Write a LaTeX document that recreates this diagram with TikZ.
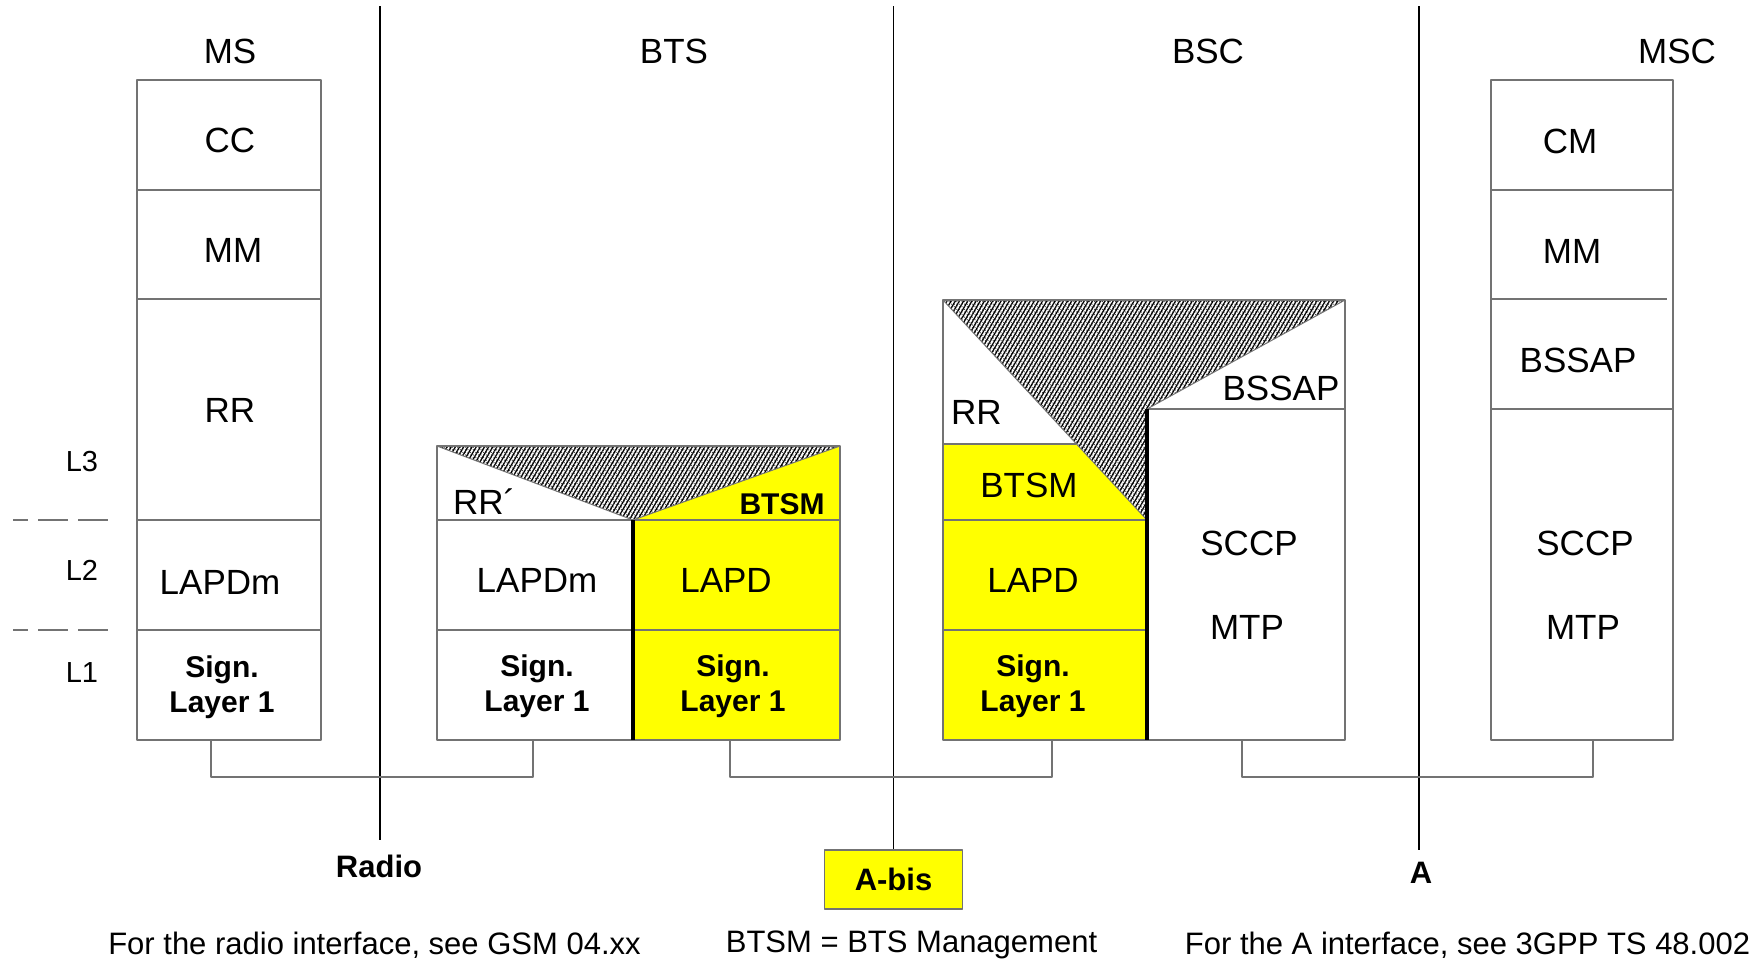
\documentclass[tikz,border=0pt]{standalone}
\usepackage{fontspec}
\setmainfont{Liberation Sans}
\usetikzlibrary{patterns.meta}
\definecolor{boxgray}{gray}{0.45}
\definecolor{sigyellow}{RGB}{255,255,0}
\begin{document}
\begin{tikzpicture}[x=1pt,y=-1pt,line join=round]
	\tikzset{box/.style={draw=boxgray,line width=1.4pt},
		big/.style={font=\fontsize{35}{40}\selectfont,inner sep=0pt},
		sig/.style={font=\bfseries\fontsize{30}{35}\selectfont,align=center,inner sep=0pt},
		iface/.style={font=\bfseries\fontsize{31}{35}\selectfont,inner sep=0pt},
		note/.style={font=\fontsize{31}{36}\selectfont,inner sep=0pt},
		lay/.style={font=\fontsize{29}{32}\selectfont,inner sep=0pt},
		hatch/.style={pattern={Lines[angle=60,distance=3.6pt,line width=1.3pt]},pattern color=black},
		grain/.style={pattern={Dots[distance=2.6pt,radius=0.6pt]},pattern color=black!80},
		link/.style={draw=boxgray,line width=1.6pt},
		iline/.style={line width=1.1pt}}
	\useasboundingbox (0,0) rectangle (1759,962);
	% titles
	\node[big] (ms) at (230,51) {MS};
	\node[big] (bts) at (674,51) {BTS};
	\node[big] (bsc) at (1208,51) {BSC};
	\node[big] (msc) at (1677,51) {MSC};
	% interfaces
	\node[iface] (radio) at (379,866) {Radio};
	\node[iface,draw=boxgray,line width=1.4pt,fill=sigyellow,minimum width=138pt,minimum height=59pt] (abis) at (893.5,879.5) {A-bis};
	\node[iface] (aif) at (1421,873) {A};
	\draw[iline] (380,6) coordinate (radio-top) -- (380,840) coordinate (radio-end);
	\draw[iline] (893.5,6) coordinate (abis-top) -- (abis.north);
	\draw[iline] (1419,6) coordinate (aif-top) -- (1419,850) coordinate (aif-end);
	% layers
	\draw[boxgray,line width=1.4pt,dash pattern={on 15pt off 10pt on 30pt off 10pt on 30pt off 10pt}] (13,520) -- (108,520) (13,630) -- (108,630);
	\node[lay] (l3) at (82,462) {L3};
	\node[lay] (l2) at (82,570) {L2};
	\node[lay] (l1) at (82,673) {L1};
	% MS
	\draw[box] (137,80) rectangle (321,740);
	\foreach \y in {190,299,520,630} \draw[box] (137,\y) -- (321,\y);
	\node[big] (ms-cc) at (230,140) {CC};
	\node[big] (ms-mm) at (233,250) {MM};
	\node[big] (ms-rr) at (230,410) {RR};
	\node[big] (ms-lapdm) at (220,582) {LAPDm};
	\node[sig] (ms-sig) at (222,687) {Sign.\\Layer 1};
	% BTS
	\fill[sigyellow] (633,520) -- (840,446) -- (840,740) -- (633,740) -- cycle;
	\fill[hatch] (437,446) -- (840,446) -- (633,520) -- cycle;
	\fill[grain] (437,446) -- (840,446) -- (633,520) -- cycle;
	\draw[boxgray,line width=1pt] (437,446) -- (633,520) -- (840,446);
	\draw[box] (437,446) rectangle (840,740) (437,520) -- (840,520) (437,630) -- (840,630);
	\draw[line width=4pt] (633,520) -- (633,740);
	\node[big,anchor=west] (bts-rr) at (453,502) {RR´};
	\node[sig] (bts-btsm) at (782,504) {BTSM};
	\node[big] (bts-lapdm) at (537,580) {LAPDm};
	\node[big] (bts-lapd) at (726,580) {LAPD};
	\node[sig] (bts-sig1) at (537,686) {Sign.\\Layer 1};
	\node[sig] (bts-sig2) at (733,686) {Sign.\\Layer 1};
	% BSC
	\fill[sigyellow] (943,444) -- (1076,444) -- (1147,520) -- (1147,740) -- (943,740) -- cycle;
	\fill[hatch] (943,300) -- (1345,300) -- (1147,409) -- (1147,520) -- cycle;
	\fill[grain] (943,300) -- (1345,300) -- (1147,409) -- (1147,520) -- cycle;
	\draw[boxgray,line width=1pt] (943,300) -- (1147,520) (1345,300) -- (1147,409);
	\draw[box] (943,300) rectangle (1345,740) (943,444) -- (1076,444) (943,520) -- (1147,520)
		(943,630) -- (1147,630) (1147,409) -- (1345,409);
	\draw[line width=4pt] (1147,409) -- (1147,740);
	\node[big,anchor=west] (bsc-rr) at (951,412) {RR};
	\node[big] (bsc-bssap) at (1281,388) {BSSAP};
	\node[big] (bsc-btsm) at (1029,485) {BTSM};
	\node[big] (bsc-lapd) at (1033,580) {LAPD};
	\node[sig] (bsc-sig) at (1033,686) {Sign.\\Layer 1};
	\node[big] (bsc-sccp) at (1249,543) {SCCP};
	\node[big] (bsc-mtp) at (1247,627) {MTP};
	% MSC
	\draw[box] (1491,80) rectangle (1673,740) (1491,190) -- (1673,190) (1491,299) -- (1667,299) (1491,409) -- (1673,409);
	\node[big] (msc-cm) at (1570,141) {CM};
	\node[big] (msc-mm) at (1572,251) {MM};
	\node[big] (msc-bssap) at (1578,360) {BSSAP};
	\node[big] (msc-sccp) at (1585,543) {SCCP};
	\node[big] (msc-mtp) at (1583,627) {MTP};
	% links
	\coordinate (ms-foot) at (211,740);
	\coordinate (bts-foot1) at (533,740);
	\coordinate (bts-foot2) at (730,740);
	\coordinate (bsc-foot1) at (1052,740);
	\coordinate (bsc-foot2) at (1242,740);
	\coordinate (msc-foot) at (1593,740);
	\draw[link] (ms-foot) -- ++(0,37) -| (bts-foot1);
	\draw[link] (bts-foot2) -- ++(0,37) -| (bsc-foot1);
	\draw[link] (bsc-foot2) -- ++(0,37) -| (msc-foot);
	% notes
	\node[note] (note-radio) at (374.5,945) {For the radio interface, see GSM 04.xx};
	\node[note] (note-btsm) at (911.5,945) {BTSM = BTS Management};
	\node[note] (note-a) at (1467.5,945) {For the A interface, see 3GPP TS 48.002};
\end{tikzpicture}
\end{document}
